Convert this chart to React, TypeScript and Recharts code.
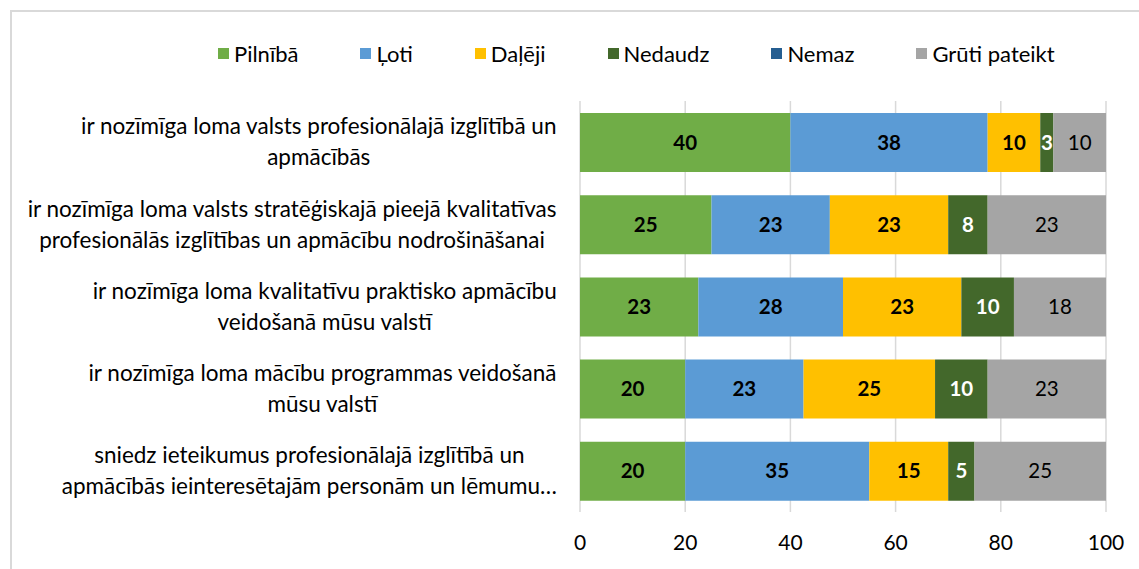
import React from "react";
import { Bar, BarChart, CartesianGrid, LabelList, Legend, XAxis, YAxis } from "recharts";

const categories = [
  "ir nozīmīga loma valsts profesionālajā izglītībā un\napmācībās",
  "ir nozīmīga loma valsts stratēģiskajā pieejā kvalitatīvas\nprofesionālās izglītības un apmācību nodrošināšanai",
  "ir nozīmīga loma kvalitatīvu praktisko apmācību\nveidošanā mūsu valstī",
  "ir nozīmīga loma mācību programmas veidošanā\nmūsu valstī",
  "sniedz ieteikumus profesionālajā izglītībā un\napmācībās ieinteresētajām personām un lēmumu…",
];

const pilniba = [40, 25, 22.5, 20, 20];
const loti = [37.5, 22.5, 27.5, 22.5, 35];
const daleji = [10, 22.5, 22.5, 25, 15];
const nedaudz = [2.5, 7.5, 10, 10, 5];
const nemaz = [0, 0, 0, 0, 0];
const gruti = [10, 22.5, 17.5, 22.5, 25];

const xTicks = [0, 20, 40, 60, 80, 100];

const FONT = "Lato, 'Open Sans', sans-serif";
const LABEL_SIZE = 22.5;

const series = [
  { key: "pilniba", name: "Pilnībā", color: "#70AD47", values: pilniba, label: "#000", weight: 700 },
  { key: "loti", name: "Ļoti", color: "#5B9BD5", values: loti, label: "#000", weight: 700 },
  { key: "daleji", name: "Daļēji", color: "#FFC000", values: daleji, label: "#000", weight: 700 },
  { key: "nedaudz", name: "Nedaudz", color: "#43682B", values: nedaudz, label: "#fff", weight: 700 },
  { key: "nemaz", name: "Nemaz", color: "#255E91", values: nemaz, label: "#fff", weight: 700 },
  { key: "gruti", name: "Grūti pateikt", color: "#A5A5A5", values: gruti, label: "#000", weight: 400 },
];

const data = categories.map((category, i) => {
  const row: Record<string, string | number> = { category };
  series.forEach((s) => (row[s.key] = s.values[i]));
  return row;
});

let ctx: CanvasRenderingContext2D | null = null;
function textWidth(text: string, font: string) {
  if (!ctx) ctx = document.createElement("canvas").getContext("2d");
  if (!ctx) return text.length * 9;
  ctx.font = font;
  return ctx.measureText(text).width;
}

function CategoryTick({ x, y, payload }: any) {
  const lines = String(payload.value).split("\n");
  const maxW = Math.max(...lines.map((l) => textWidth(l, `${LABEL_SIZE}px ${FONT}`)));
  const cx = x - maxW / 2;
  const lineH = 31;
  const top = y - ((lines.length - 1) * lineH) / 2;
  return (
    <text textAnchor="middle" fontSize={LABEL_SIZE} fontFamily={FONT} fill="#000">
      {lines.map((l, i) => (
        <tspan key={i} x={cx} y={top + i * lineH} dy="0.35em">
          {l}
        </tspan>
      ))}
    </text>
  );
}

const barLabel = (color: string, weight: number) => (props: any) => {
  const { x, y, width, height, value } = props;
  if (!value) return null;
  return (
    <text
      x={x + width / 2}
      y={y + height / 2}
      dy="0.35em"
      textAnchor="middle"
      fill={color}
      fontWeight={weight}
      fontSize={20.5}
      fontFamily={FONT}
    >
      {Math.round(value)}
    </text>
  );
};

function LegendContent() {
  return (
    <div style={{ display: "flex", alignItems: "center", fontFamily: FONT, fontSize: 22, color: "#000" }}>
      {series.map((s) => (
        <div key={s.key} style={{ display: "flex", alignItems: "center", marginRight: 62 }}>
          <span style={{ width: 11, height: 11, background: s.color, marginRight: 5, display: "inline-block" }} />
          <span>{s.name}</span>
        </div>
      ))}
    </div>
  );
}

export default function App() {
  return (
    <div style={{ position: "absolute", left: 0, top: 0, width: 1139, height: 569, overflow: "hidden", background: "#fff" }}>
      <div
        style={{
          position: "absolute",
          left: 10,
          top: 10,
          width: 1200,
          height: 600,
          border: "2px solid #D9D9D9",
        }}
      />
      <BarChart
        width={1139}
        height={569}
        data={data}
        layout="vertical"
        margin={{ top: 101, right: 33, left: 0, bottom: 17 }}
        style={{ position: "absolute", left: 0, top: 0, fontFamily: FONT }}
      >
        <CartesianGrid horizontal={false} stroke="#D9D9D9" strokeWidth={1.5} />
        <XAxis
          type="number"
          domain={[0, 100]}
          ticks={xTicks}
          axisLine={false}
          tickLine={false}
          height={40}
          tickMargin={17}
          tick={{ fontSize: 21, fill: "#000", fontFamily: FONT }}
        />
        <YAxis
          type="category"
          dataKey="category"
          width={580}
          axisLine={false}
          tickLine={false}
          tickMargin={17}
          tick={<CategoryTick />}
          interval={0}
        />
        <Legend
          verticalAlign="middle"
          align="center"
          layout="horizontal"
          content={<LegendContent />}
          wrapperStyle={{ left: 218, top: 40, width: 920 }}
        />
        {series.map((s) => (
          <Bar key={s.key} dataKey={s.key} name={s.name} stackId="a" fill={s.color} barSize={59} isAnimationActive={false}>
            <LabelList dataKey={s.key} content={barLabel(s.label, s.weight)} />
          </Bar>
        ))}
      </BarChart>
    </div>
  );
}
